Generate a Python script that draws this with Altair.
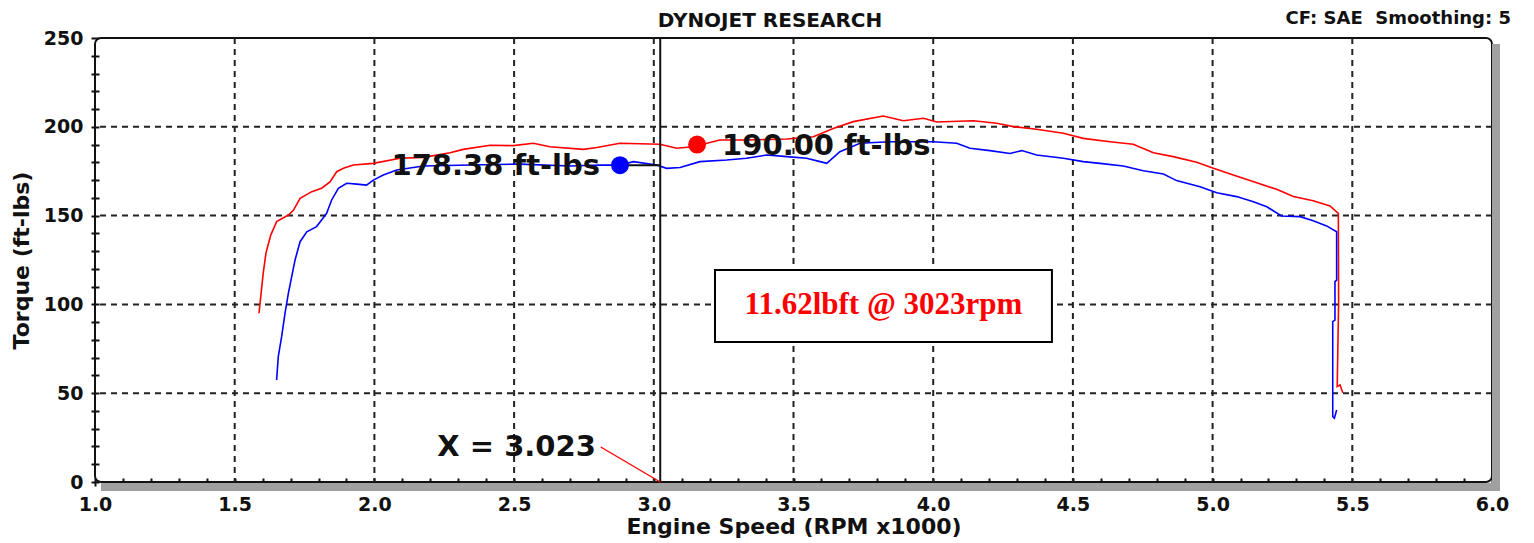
import altair as alt
import pandas as pd

# ---- data ----
red_rpm = [1.587, 1.602, 1.612, 1.629, 1.650, 1.692, 1.710, 1.734, 1.776, 1.811, 1.841, 1.865,
           1.889, 1.924, 1.996, 2.092, 2.175, 2.271, 2.318, 2.414, 2.497, 2.569, 2.628, 2.748,
           2.796, 2.879, 3.022, 3.082, 3.141, 3.236, 3.332, 3.476, 3.571, 3.642, 3.714, 3.821,
           3.893, 3.965, 4.013, 4.144, 4.227, 4.287, 4.370, 4.466, 4.537, 4.633, 4.716, 4.788,
           4.859, 4.943, 5.003, 5.074, 5.158, 5.229, 5.289, 5.360, 5.420, 5.450, 5.451, 5.446,
           5.456, 5.466]
red_tq = [95.0, 117.5, 129.0, 139.0, 146.6, 150.3, 153.0, 159.7, 163.5, 165.4, 169.0, 174.7,
          176.6, 178.5, 179.4, 182.3, 182.8, 185.4, 187.3, 189.6, 189.4, 190.7, 188.8, 187.3,
          188.3, 190.7, 190.2, 187.9, 188.8, 192.6, 192.6, 193.1, 194.4, 199.1, 202.9, 206.1,
          203.4, 204.8, 202.7, 203.4, 202.0, 200.1, 198.6, 196.4, 193.5, 191.6, 190.2, 185.4,
          183.2, 180.0, 176.6, 172.9, 168.5, 164.8, 160.7, 158.4, 155.4, 151.3, 100.6, 53.7,
          54.7, 50.3]

blue_rpm = [1.650, 1.656, 1.668, 1.680, 1.692, 1.704, 1.716, 1.734, 1.758, 1.793, 1.811, 1.829,
            1.847, 1.871, 1.901, 1.937, 1.972, 1.996, 2.032, 2.080, 2.175, 2.342, 2.521, 2.700,
            2.807, 2.879, 2.927, 3.010, 3.046, 3.094, 3.165, 3.261, 3.332, 3.404, 3.476, 3.547,
            3.595, 3.619, 3.666, 3.738, 3.845, 4.000, 4.084, 4.132, 4.203, 4.275, 4.317, 4.370,
            4.466, 4.537, 4.597, 4.680, 4.752, 4.824, 4.871, 4.955, 5.015, 5.086, 5.146, 5.194,
            5.247, 5.313, 5.360, 5.408, 5.444, 5.444, 5.438, 5.438, 5.430, 5.430, 5.436, 5.444]
blue_tq = [57.4, 70.6, 81.8, 95.0, 106.2, 115.6, 125.0, 135.3, 140.9, 143.8, 147.5, 151.3,
           158.8, 165.4, 168.2, 167.7, 167.2, 170.0, 172.9, 175.7, 177.9, 178.5, 179.0, 177.9,
           178.5, 178.4, 180.4, 178.5, 176.6, 177.1, 180.4, 181.3, 182.3, 184.1, 183.2, 182.3,
           180.4, 179.4, 186.0, 190.7, 191.6, 191.6, 190.7, 187.9, 186.6, 185.0, 186.6, 184.1,
           182.3, 180.4, 179.4, 177.9, 175.3, 173.4, 169.7, 166.3, 162.9, 160.7, 157.8, 155.0,
           149.8, 149.4, 147.1, 144.2, 140.9, 113.7, 112.8, 91.2, 90.3, 36.8, 35.9, 40.5]

grid_x = [1.5, 2.0, 2.5, 3.0, 3.5, 4.0, 4.5, 5.0, 5.5]
grid_y = [50, 100, 150, 200]

cursor_x = 3.023
blue_marker = {"rpm": 2.879, "tq": 178.38, "label": "178.38 ft-lbs"}
red_marker = {"rpm": 3.155, "tq": 190.00, "label": "190.00 ft-lbs"}
cursor_label = {"rpm": 2.80, "tq": 19.7, "label": "X = 3.023"}
box = {"x1": 3.219, "x2": 4.425, "y1": 78.8, "y2": 119.4, "label": "11.62lbft @ 3023rpm",
       "cx": 3.822, "cy": 99.6}

x_ticks = [round(1 + 0.1 * k, 1) for k in range(51)]
y_ticks = list(range(0, 251, 10))

W, H = 1397, 444
FONT = "DejaVu Sans"

# ---- scales / axes ----
xscale = alt.Scale(domain=[1, 6], nice=False, zero=False)
yscale = alt.Scale(domain=[0, 250], nice=False)
xaxis = alt.Axis(values=x_ticks,
                 labelExpr="abs(datum.value*2 - round(datum.value*2)) < 0.001 ? format(datum.value, '.1f') : ''",
                 tickSize=8, tickWidth=2, tickColor="#111", offset=-4, domain=False, grid=False,
                 labelFont=FONT, labelFontWeight="bold", labelFontSize=19, labelColor="#111",
                 labelPadding=9, labelOverlap=False, labelFlush=False,
                 title="Engine Speed (RPM x1000)", titleFont=FONT, titleFontWeight="bold",
                 titleFontSize=22, titleColor="#111", titlePadding=2)
yaxis = alt.Axis(values=y_ticks,
                 labelExpr="datum.value % 50 == 0 ? datum.value : ''",
                 tickSize=8, tickWidth=2, tickColor="#111", offset=-4, domain=False, grid=False,
                 labelFont=FONT, labelFontWeight="bold", labelFontSize=19, labelColor="#111",
                 labelPadding=8, labelOverlap=False, labelFlush=False,
                 title="Torque (ft-lbs)", titleFont=FONT, titleFontWeight="bold",
                 titleFontSize=22, titleColor="#111", titlePadding=10)


def X(field):
    return alt.X(field, type="quantitative", scale=xscale, axis=xaxis)


def Y(field):
    return alt.Y(field, type="quantitative", scale=yscale, axis=yaxis)


one = pd.DataFrame({"k": [0]})

# shadow strips (decoration outside the frame)
shadow_b = alt.Chart(one).mark_rect(color="#a0a0a0").encode(
    x=alt.value(6), x2=alt.value(W + 8), y=alt.value(H + 1), y2=alt.value(H + 9))
shadow_r = alt.Chart(one).mark_rect(color="#a0a0a0").encode(
    x=alt.value(W), x2=alt.value(W + 8), y=alt.value(6), y2=alt.value(H + 9))

grid_v = alt.Chart(pd.DataFrame({"gx": grid_x})).mark_rule(
    color="#222", strokeWidth=2, strokeDash=[6, 5]).encode(x=X("gx"))
grid_h = alt.Chart(pd.DataFrame({"gy": grid_y})).mark_rule(
    color="#222", strokeWidth=2, strokeDash=[6, 5]).encode(y=Y("gy"))

box_df = pd.DataFrame([box])
box_rect = alt.Chart(box_df).mark_rect(fill="white", stroke="black", strokeWidth=2).encode(
    x=X("x1"), x2="x2", y=Y("y1"), y2="y2")
box_text = alt.Chart(box_df).mark_text(
    font="Liberation Serif", fontWeight="bold", fontSize=31, color="#ff0000",
    align="center", baseline="middle").encode(x=X("cx"), y=Y("cy"), text="label")

red_df = pd.DataFrame({"rpm": red_rpm, "tq": red_tq, "i": range(len(red_rpm))})
blue_df = pd.DataFrame({"rpm": blue_rpm, "tq": blue_tq, "i": range(len(blue_rpm))})
red_line = alt.Chart(red_df).mark_line(color="#ff0000", strokeWidth=1.6).encode(
    x=X("rpm"), y=Y("tq"), order="i:Q")
blue_line = alt.Chart(blue_df).mark_line(color="#0000ff", strokeWidth=1.6).encode(
    x=X("rpm"), y=Y("tq"), order="i:Q")

cursor = alt.Chart(pd.DataFrame({"cx": [cursor_x]})).mark_rule(
    color="#111", strokeWidth=2).encode(x=X("cx"))

conn = alt.Chart(pd.DataFrame({"a": [blue_marker["rpm"]], "b": [cursor_x],
                               "t": [blue_marker["tq"]]})).mark_rule(
    color="#111", strokeWidth=2).encode(x=X("a"), x2="b", y=Y("t"))

xlead = alt.Chart(pd.DataFrame({"a": [cursor_label["rpm"] + 0.01], "b": [cursor_x],
                                "t1": [cursor_label["tq"]], "t2": [0]})).mark_rule(
    color="#ff0000", strokeWidth=1.4).encode(x=X("a"), x2="b", y=Y("t1"), y2="t2")

bdf = pd.DataFrame([blue_marker])
rdf = pd.DataFrame([red_marker])
blue_dot = alt.Chart(bdf).mark_circle(color="#0000ff", opacity=1, size=320).encode(
    x=X("rpm"), y=Y("tq"))
red_dot = alt.Chart(rdf).mark_circle(color="#ff0000", opacity=1, size=320).encode(
    x=X("rpm"), y=Y("tq"))
blue_lab = alt.Chart(bdf).mark_text(
    font=FONT, fontWeight="bold", fontSize=29, color="#111", align="right",
    baseline="middle", dx=-20, dy=1).encode(x=X("rpm"), y=Y("tq"), text="label")
red_lab = alt.Chart(rdf).mark_text(
    font=FONT, fontWeight="bold", fontSize=29, color="#111", align="left",
    baseline="middle", dx=25, dy=1).encode(x=X("rpm"), y=Y("tq"), text="label")
x_lab = alt.Chart(pd.DataFrame([cursor_label])).mark_text(
    font=FONT, fontWeight="bold", fontSize=29, color="#111", align="right",
    baseline="middle", dx=-2).encode(x=X("rpm"), y=Y("tq"), text="label")

hdr = alt.Chart(pd.DataFrame({"t": ["DYNOJET RESEARCH"]})).mark_text(
    font=FONT, fontWeight="bold", fontSize=20, color="#111", align="center",
    baseline="middle").encode(x=alt.value(675), y=alt.value(-17), text="t")
cf = alt.Chart(pd.DataFrame({"t": ["CF: SAE\u00a0\u00a0Smoothing: 5"]})).mark_text(
    font=FONT, fontWeight="bold", fontSize=18, color="#111", align="right",
    baseline="middle").encode(x=alt.value(1416), y=alt.value(-19), text="t")

chart = alt.layer(
    shadow_b, shadow_r, grid_v, grid_h, box_rect, box_text, red_line, blue_line,
    cursor, conn, xlead, blue_dot, red_dot, blue_lab, red_lab, x_lab, hdr, cf
).properties(
    width=W, height=H,
    autosize=alt.AutoSizeParams(type="none"),
    padding={"left": 87, "top": 30, "right": 34, "bottom": 61},
    background="white",
).configure_view(
    stroke="#111", strokeWidth=2, cornerRadius=6
)

chart.save("out.html", embed_options={"renderer": "svg", "actions": False})
